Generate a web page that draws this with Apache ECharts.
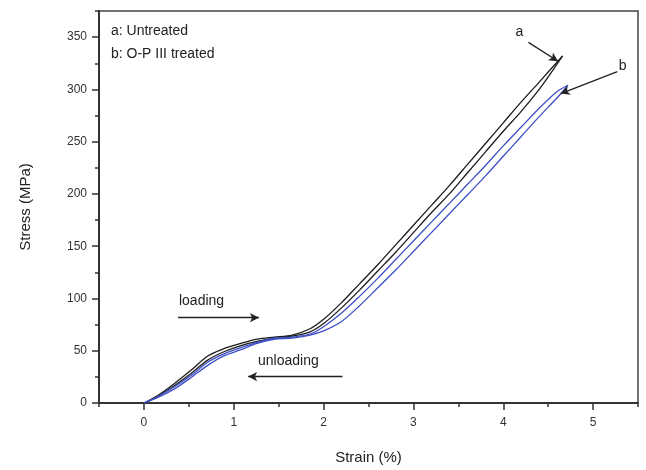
<!DOCTYPE html>
<html>
<head>
<meta charset="utf-8">
<script src="https://cdn.jsdelivr.net/npm/echarts@6/dist/echarts.min.js"></script>
<style>
  html, body { margin: 0; padding: 0; background: #fff; }
  #container { width: 646px; height: 470px; }
</style>
</head>
<body>
<div id="container"></div>
<script>
// ticks
const xTicks = [0, 1, 2, 3, 4, 5];
const yTicks = [0, 50, 100, 150, 200, 250, 300, 350];

// a: untreated (black), loading branch and unloading branch
const aLoadX = [0, 0.15, 0.33, 0.52, 0.71, 0.89, 1.08, 1.26, 1.45, 1.65, 1.85, 2.0, 2.2, 2.4, 2.6, 2.8, 3.0, 3.2, 3.4, 3.6, 3.8, 4.0, 4.2, 4.4, 4.66];
const aLoadY = [0, 7, 18, 31, 45, 52, 57, 61, 63, 65, 71, 80, 96, 114, 132, 151, 170, 189, 208, 228, 248, 268, 288, 307, 332];
const aUnloadX = [0, 0.15, 0.33, 0.52, 0.71, 0.89, 1.08, 1.26, 1.45, 1.65, 1.85, 2.0, 2.2, 2.4, 2.6, 2.8, 3.0, 3.2, 3.4, 3.6, 3.8, 4.0, 4.2, 4.4, 4.55, 4.66];
const aUnloadY = [0, 6, 16, 28, 41, 49, 55, 59, 62, 64, 68, 76, 91, 108, 126, 144, 163, 182, 200, 220, 240, 260, 279, 300, 318, 332];

// b: O-P III treated (blue)
const bLoadX = [0, 0.15, 0.33, 0.52, 0.71, 0.89, 1.08, 1.26, 1.45, 1.65, 1.85, 2.0, 2.2, 2.4, 2.6, 2.8, 3.0, 3.2, 3.4, 3.6, 3.8, 4.0, 4.2, 4.4, 4.6, 4.72];
const bLoadY = [0, 6, 15, 26, 39, 47, 53, 58, 62, 63, 66, 73, 86, 102, 119, 137, 155, 173, 191, 209, 227, 246, 264, 282, 298, 304];
const bUnloadX = [0, 0.15, 0.33, 0.52, 0.71, 0.89, 1.08, 1.26, 1.45, 1.65, 1.85, 2.0, 2.2, 2.4, 2.6, 2.8, 3.0, 3.2, 3.4, 3.6, 3.8, 4.0, 4.2, 4.4, 4.6, 4.72];
const bUnloadY = [0, 5, 13, 24, 36, 45, 51, 57, 61, 62, 65, 69, 78, 93, 110, 127, 145, 163, 181, 199, 217, 236, 255, 274, 292, 304];

const black = '#1c1c1c';
const blue = '#3d4fc4';
const font = 'Liberation Sans';

const zip = (xs, ys) => xs.map((x, i) => [x, ys[i]]);

const chart = echarts.init(document.getElementById('container'));

const lineSeries = (name, xs, ys, color) => ({
  name: name,
  type: 'line',
  xAxisIndex: 0,
  yAxisIndex: 0,
  data: zip(xs, ys),
  smooth: 0.3,
  showSymbol: false,
  lineStyle: { color: color, width: 1.3 },
  z: 3
});

// arrows, in data coords
const arrow = (from, to) => [
  { coord: from, symbol: 'none' },
  { coord: to, symbol: 'arrow', symbolSize: [7, 9] }
];

const option = {
  backgroundColor: '#fff',
  animation: false,
  grid: {
    left: 99, right: 8, top: 11, bottom: 59,
    show: true, borderColor: '#444', borderWidth: 1.5
  },
  xAxis: [{
    type: 'value', min: -0.5, max: 5.5, position: 'bottom',
    name: 'Strain (%)', nameLocation: 'middle', nameGap: 47,
    nameTextStyle: { fontFamily: font, fontSize: 15, color: '#222' },
    axisLine: { show: true, onZero: false, lineStyle: { color: '#333', width: 2 } },
    axisTick: { show: true, customValues: xTicks, length: 7, lineStyle: { color: '#333', width: 1.5 } },
    axisLabel: { customValues: xTicks, margin: 14, fontFamily: font, fontSize: 12, color: '#333' },
    splitLine: { show: false }
  }, {
    type: 'value', min: -0.5, max: 5.5, interval: 0.5, position: 'bottom',
    axisLine: { show: false, onZero: false },
    axisTick: { show: true, length: 4, lineStyle: { color: '#333', width: 1.5 } },
    axisLabel: { show: false },
    splitLine: { show: false }
  }],
  yAxis: [{
    type: 'value', min: 0, max: 375, position: 'left',
    name: 'Stress (MPa)', nameLocation: 'middle', nameGap: 66,
    nameTextStyle: { fontFamily: font, fontSize: 15, color: '#222' },
    axisLine: { show: true, onZero: false, lineStyle: { color: '#333', width: 2 } },
    axisTick: { show: true, customValues: yTicks, length: 7, lineStyle: { color: '#333', width: 1.5 } },
    axisLabel: { customValues: yTicks, margin: 12, fontFamily: font, fontSize: 12, color: '#333' },
    splitLine: { show: false }
  }, {
    type: 'value', min: 0, max: 375, interval: 25, position: 'left', offset: 0,
    axisLine: { show: false, onZero: false },
    axisTick: { show: true, length: 4, lineStyle: { color: '#333', width: 1.5 } },
    axisLabel: { show: false },
    splitLine: { show: false }
  }],
  series: [
    Object.assign(lineSeries('a loading', aLoadX, aLoadY, black), {
      markLine: {
        silent: true,
        label: { show: false },
        lineStyle: { color: '#222', width: 1.3, type: 'solid' },
        data: [
          arrow([4.28, 345], [4.61, 327]),
          arrow([5.27, 317], [4.64, 296]),
          arrow([0.38, 81.6], [1.28, 81.6]),
          arrow([2.21, 25.3], [1.16, 25.3])
        ]
      }
    }),
    lineSeries('a unloading', aUnloadX, aUnloadY, black),
    lineSeries('b loading', bLoadX, bLoadY, blue),
    lineSeries('b unloading', bUnloadX, bUnloadY, blue)
  ]
};

chart.setOption(option);

// text annotations placed through the axes
const labelAt = (text, coord, align) => {
  const p = chart.convertToPixel({ xAxisIndex: 0, yAxisIndex: 0 }, coord);
  return {
    type: 'text', x: p[0], y: p[1],
    style: { text: text, fontFamily: font, fontSize: 14, fill: '#222', align: align || 'left', verticalAlign: 'middle' }
  };
};

chart.setOption({
  graphic: [
    { type: 'text', left: 111, top: 24, style: { text: 'a: Untreated', fontFamily: font, fontSize: 14, fill: '#222' } },
    { type: 'text', left: 111, top: 47, style: { text: 'b: O-P III treated', fontFamily: font, fontSize: 14, fill: '#222' } },
    labelAt('a', [4.18, 355], 'center'),
    labelAt('b', [5.33, 322], 'center'),
    labelAt('loading', [0.39, 97.5]),
    labelAt('unloading', [1.27, 40])
  ]
});
</script>
</body>
</html>
